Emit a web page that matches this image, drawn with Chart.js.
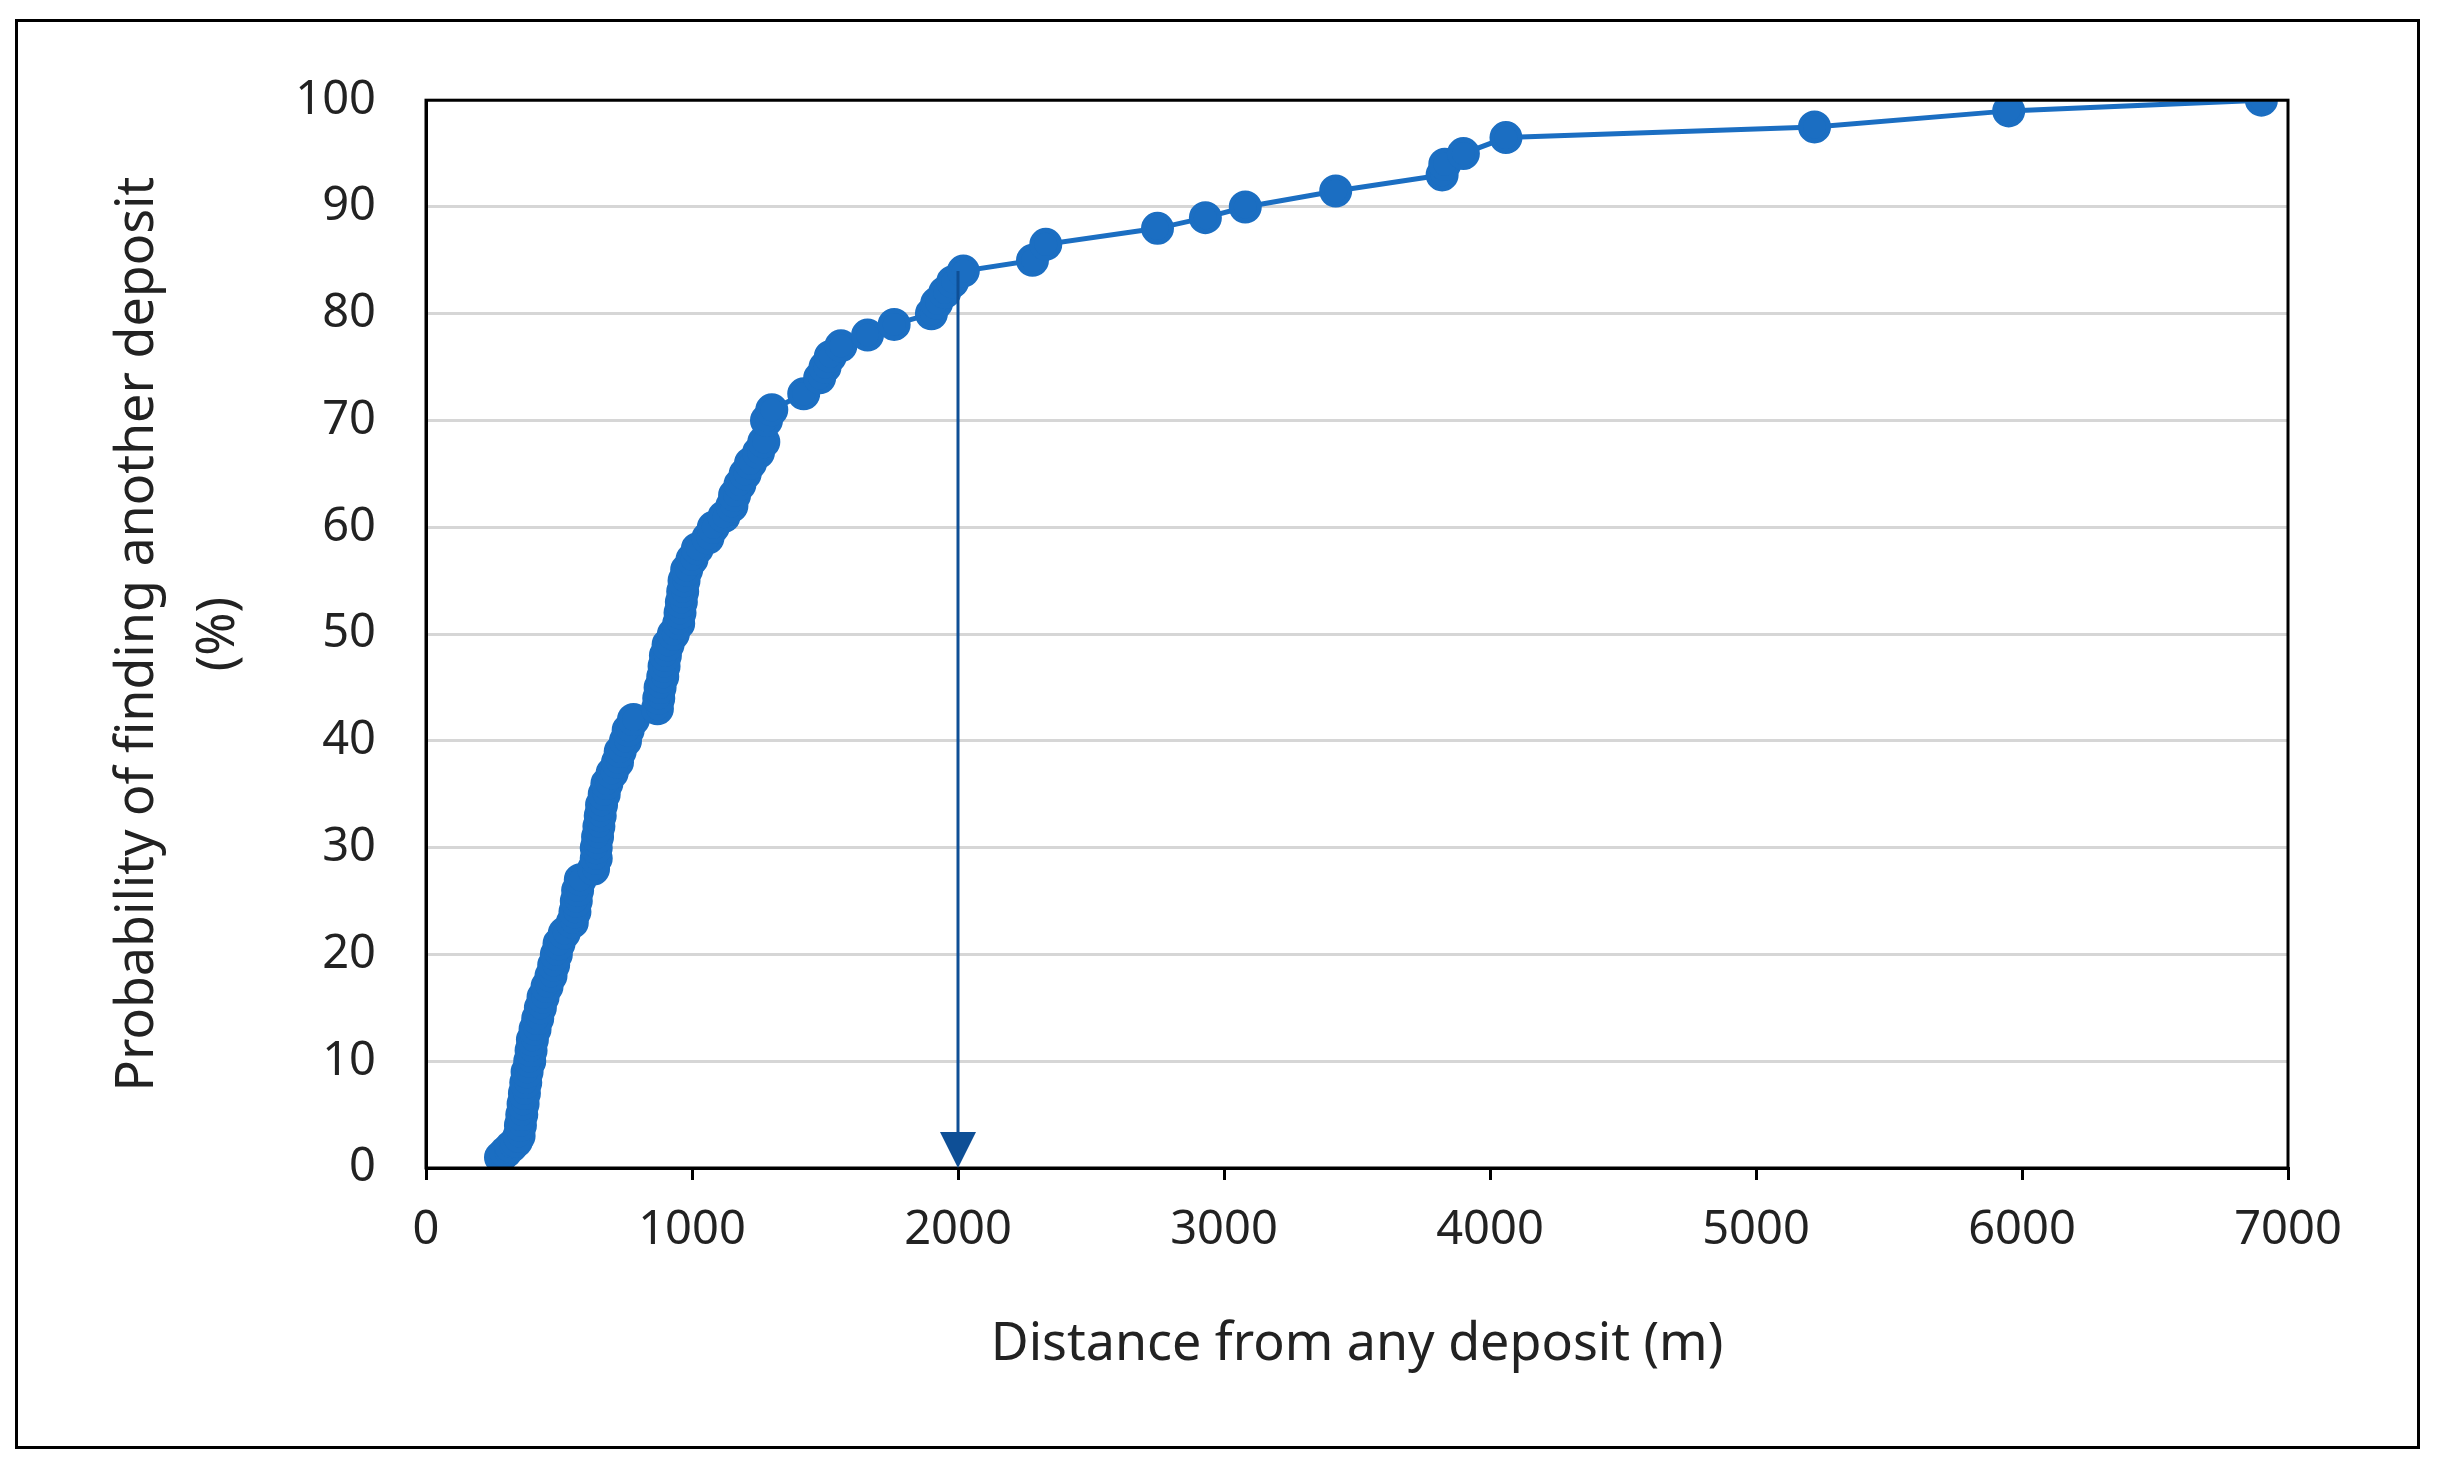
<!DOCTYPE html>
<html><head><meta charset="utf-8">
<script src="https://cdn.jsdelivr.net/npm/chart.js@4"></script>
<style>
html,body{margin:0;padding:0;background:#fff;width:2437px;height:1477px;overflow:hidden}
#box{position:absolute;left:15px;top:19px;width:2399px;height:1424px;border:3px solid #000;background:#fff}
</style></head><body>
<div id="box"><canvas id="c" width="2399" height="1424"></canvas></div>
<script>
const distances = [280,300,320,340,350,355,360,365,370,375,380,390,395,400,410,420,430,440,455,470,480,490,500,520,550,560,565,570,580,630,640,640,645,650,655,660,670,680,700,720,730,750,760,780,870,875,880,890,895,900,910,930,950,955,960,965,970,980,1000,1020,1060,1080,1120,1150,1160,1180,1200,1220,1250,1270,1280,1300,1420,1480,1500,1520,1560,1660,1760,1900,1920,1950,1980,2020,2280,2330,2750,2930,3080,3420,3820,3830,3900,4060,5220,5950,6900];
const probabilities = [1,1.5,2,2.5,3,4,5,6,7,8,9,10,11,12,13,14,15,16,17,18,19,20,21,22,23,24,25,26,27,28,29,30,31,32,33,34,35,36,37,38,39,40,41,42,43,44,45,46,47,48,49,50,51,52,53,54,55,56,57,58,59,60,61,62,63,64,65,66,67,68,70,71,72.5,74,75,76,77,78,79,80,81,82,83,84,85,86.5,88,89,90,91.5,93,94,95,96.5,97.5,99,100];
const xTicks = [0,1000,2000,3000,4000,5000,6000,7000];
const yTicks = [0,10,20,30,40,50,60,70,80,90,100];
const arrowX = 2000, arrowTop = 84;
const FONT = "'Noto Sans', sans-serif";
const extras = {
  id:'extras',
  afterDatasetsDraw(chart){
    const {ctx, chartArea:a, scales:{x,y}} = chart;
    ctx.save();
    ctx.strokeStyle='#000'; ctx.lineWidth=3;
    ctx.strokeRect(a.left,a.top,a.right-a.left,a.bottom-a.top);
    const px=x.getPixelForValue(arrowX), y1=y.getPixelForValue(arrowTop), y2=y.getPixelForValue(0);
    ctx.strokeStyle='#0E4F96'; ctx.fillStyle='#0E4F96'; ctx.lineWidth=3;
    ctx.beginPath(); ctx.moveTo(px,y1); ctx.lineTo(px,y2-34); ctx.stroke();
    ctx.beginPath(); ctx.moveTo(px-18,y2-36); ctx.lineTo(px+18,y2-36); ctx.lineTo(px,y2); ctx.closePath(); ctx.fill();
    ctx.restore();
  }
};
new Chart(document.getElementById('c'),{
  type:'scatter',
  data:{datasets:[{data:distances.map((d,i)=>({x:d,y:probabilities[i]})),showLine:true,
    borderColor:'#1B6EC2',backgroundColor:'#1B6EC2',borderWidth:5,pointRadius:14,pointHoverRadius:14}]},
  options:{responsive:false,animation:false,devicePixelRatio:1,
    layout:{padding:{left:80,top:67,right:129,bottom:60}},
    plugins:{legend:{display:false},tooltip:{enabled:false}},
    scales:{
      x:{type:'linear',min:0,max:7000,afterBuildTicks:s=>{s.ticks=xTicks.map(v=>({value:v}));},
        afterFit:s=>{s.height=218;},
        grid:{drawOnChartArea:false,tickLength:12,color:'#000',lineWidth:3},border:{color:'#000',width:3},
        ticks:{font:{family:FONT,size:47},color:'#222',padding:22,maxRotation:0,callback:v=>String(v)},
        title:{display:true,text:'Distance from any deposit (m)',font:{family:FONT,size:52},color:'#222',padding:{top:0,bottom:10}}},
      y:{min:0,max:100,afterBuildTicks:s=>{s.ticks=yTicks.map(v=>({value:v}));},
        afterFit:s=>{s.width=328;},
        grid:{color:'#d6d6d6',lineWidth:3,drawTicks:false},border:{color:'#000',width:3},
        ticks:{font:{family:FONT,size:47},color:'#222',padding:50},
        title:{display:true,text:['Probability of finding another deposit','(%)'],font:{family:FONT,size:52,lineHeight:1.55},color:'#222',padding:0}}
    }},
  plugins:[extras]
});
</script></body></html>
